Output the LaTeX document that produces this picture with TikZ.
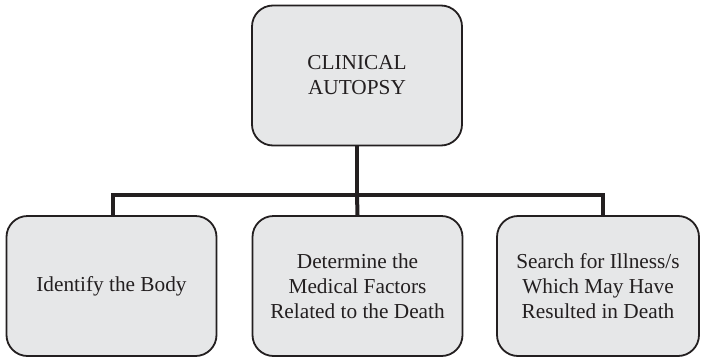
\documentclass[tikz,border=0pt]{standalone}
\usepackage{fontspec}
\setmainfont{Liberation Serif}
\definecolor{boxfill}{HTML}{E6E7E8}
\definecolor{inkline}{HTML}{231F20}
\begin{document}
\begin{tikzpicture}[x=1pt,y=-1pt,
  cardbox/.style={draw=inkline, line width=1.8pt, fill=boxfill, rounded corners=21pt,
    minimum height=140pt, align=center, font=\fontsize{21.3}{25}\selectfont, text=inkline, inner sep=0pt},
  link/.style={draw=inkline, line width=4pt}]
\useasboundingbox (0,0) rectangle (701,359);
\node[cardbox, minimum width=210pt] (top) at (357,75.5) {CLINICAL\\AUTOPSY};
\node[cardbox, minimum width=210pt] (left) at (111.5,286) {Identify the Body};
\node[cardbox, minimum width=210pt] (mid) at (357.5,286) {Determine the\\Medical Factors\\Related to the Death};
\node[cardbox, minimum width=202pt] (right) at (598,286) {Search for Illness/s\\Which May Have\\Resulted in Death};
\coordinate (hub) at (357,194.5);
\coordinate (lturn) at (112.5,194.5);
\coordinate (rturn) at (603,194.5);
\draw[link] (top.south) -- (hub);
\draw[link] (hub) -- (mid.north);
\draw[link, line join=miter] (left.north -| lturn) -- (lturn) -- (rturn) -- (right.north -| rturn);
\end{tikzpicture}
\end{document}
